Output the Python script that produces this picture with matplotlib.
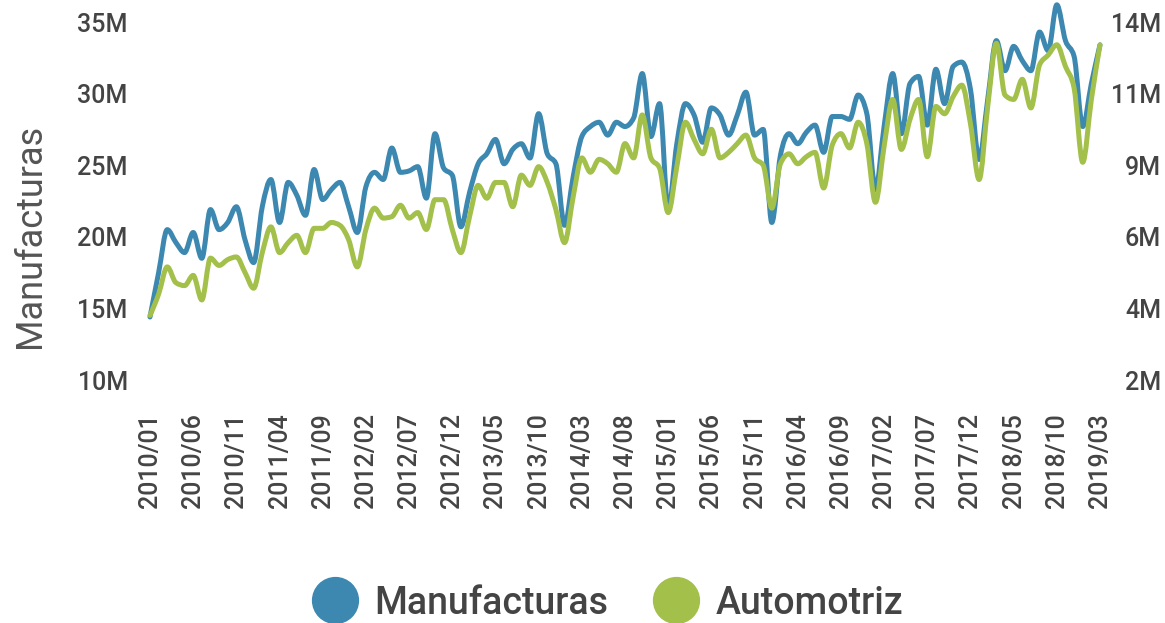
import numpy as np
import pandas as pd
import matplotlib
matplotlib.use('Agg')
import matplotlib.pyplot as plt
from matplotlib.path import Path
from matplotlib.patches import PathPatch
from matplotlib.lines import Line2D
from matplotlib.ticker import FuncFormatter

plt.rcParams['font.family'] = ['Roboto', 'DejaVu Sans']
plt.rcParams['font.weight'] = 'medium'

# monthly series, 2010/01 .. 2019/03
months = pd.period_range('2010-01', '2019-03', freq='M').strftime('%Y/%m').tolist()

# Manufacturas, millions (left axis)
manufacturas = [
    14.4, 17.5, 20.5, 19.6, 18.9, 20.3, 18.5, 21.9, 20.5, 21.0,
    22.1, 19.8, 18.2, 22.1, 24.0, 21.0, 23.8, 22.9, 21.5, 24.7,
    22.6, 23.3, 23.8, 22.1, 20.3, 23.5, 24.5, 24.0, 26.2, 24.5,
    24.6, 24.9, 22.7, 27.2, 24.8, 24.3, 20.7, 23.1, 25.1, 25.8,
    26.8, 25.1, 26.1, 26.5, 25.5, 28.6, 25.8, 25.1, 20.8, 24.2,
    27.0, 27.7, 28.0, 27.1, 28.0, 27.7, 28.3, 31.4, 27.0, 29.3,
    21.9, 26.5, 29.3, 28.5, 26.6, 29.0, 28.5, 27.1, 28.5, 30.1,
    27.1, 27.5, 21.0, 25.7, 27.2, 26.5, 27.3, 27.8, 25.9, 28.4,
    28.4, 28.2, 29.9, 28.6, 23.3, 27.7, 31.4, 27.2, 30.7, 31.2,
    27.8, 31.7, 29.3, 31.9, 32.2, 30.3, 25.4, 29.6, 33.7, 31.6,
    33.3, 32.3, 31.6, 34.3, 33.0, 36.2, 33.7, 32.6, 27.7, 30.7, 33.4,
]

# Automotriz, millions (right axis)
automotriz = [
    4.21, 4.94, 5.87, 5.33, 5.23, 5.58, 4.74, 6.17, 5.92, 6.12,
    6.21, 5.68, 5.14, 6.36, 7.24, 6.36, 6.70, 6.95, 6.36, 7.19,
    7.19, 7.39, 7.29, 6.80, 5.87, 7.15, 7.88, 7.54, 7.59, 7.98,
    7.54, 7.73, 7.15, 8.17, 8.17, 7.15, 6.36, 7.59, 8.66, 8.22,
    8.76, 8.76, 7.93, 9.01, 8.66, 9.30, 8.76, 7.83, 6.70, 8.27,
    9.60, 9.11, 9.55, 9.40, 9.11, 10.09, 9.60, 11.07, 9.60, 9.25,
    7.73, 9.30, 10.82, 10.23, 9.74, 10.58, 9.60, 9.79, 10.09, 10.38,
    9.60, 9.35, 7.88, 9.40, 9.74, 9.40, 9.64, 9.79, 8.57, 10.04,
    10.43, 9.94, 10.82, 10.09, 8.08, 9.99, 11.60, 9.89, 10.92, 11.60,
    9.64, 11.36, 11.11, 11.70, 12.09, 10.77, 8.86, 11.36, 13.52, 11.75,
    11.60, 12.29, 11.31, 12.78, 13.12, 13.47, 12.73, 11.99, 9.45, 11.60, 13.47,
]

blue = '#3c88b0'
green = '#a2c04a'
txt = '#444444'


def monotone_path(x, y):
    # smooth monotone cubic curve (bezier segments) through the points
    x = np.asarray(x, float)
    y = np.asarray(y, float)
    n = len(x)
    h = np.diff(x)
    s = np.diff(y) / h
    t = np.zeros(n)
    for i in range(1, n - 1):
        p = (s[i - 1] * h[i] + s[i] * h[i - 1]) / (h[i - 1] + h[i])
        sg = (1 if s[i - 1] >= 0 else -1) + (1 if s[i] >= 0 else -1)
        t[i] = sg * min(abs(s[i - 1]), abs(s[i]), 0.5 * abs(p))
    t[0] = (3 * s[0] - t[1]) / 2
    t[-1] = (3 * s[-1] - t[-2]) / 2
    verts = [(x[0], y[0])]
    codes = [Path.MOVETO]
    for i in range(n - 1):
        dx = h[i] / 3
        verts += [(x[i] + dx, y[i] + dx * t[i]),
                  (x[i + 1] - dx, y[i + 1] - dx * t[i + 1]),
                  (x[i + 1], y[i + 1])]
        codes += [Path.CURVE4] * 3
    return Path(verts, codes)


x = np.arange(len(months))

fig = plt.figure(figsize=(11.65, 6.23), dpi=100)
ax = fig.add_axes([150 / 1165, 1 - 380 / 623, 950 / 1165, 358 / 623])
ax2 = ax.twinx()

ax.add_patch(PathPatch(monotone_path(x, manufacturas), facecolor='none',
                       edgecolor=blue, lw=3.6, joinstyle='round', capstyle='round',
                       clip_on=False))
ax2.add_patch(PathPatch(monotone_path(x, automotriz), facecolor='none',
                        edgecolor=green, lw=3.6, joinstyle='round', capstyle='round',
                        clip_on=False))

ax.set_xlim(0, len(months) - 1)
ax.set_ylim(10, 35)
ax2.set_ylim(2.0, 14.25)
ax.set_yticks(np.arange(10, 36, 5))
ax2.set_yticks(np.linspace(2.0, 14.25, 6))
ax.yaxis.set_major_formatter(FuncFormatter(lambda v, p: f'{v:.0f}M'))
ax2.yaxis.set_major_formatter(FuncFormatter(lambda v, p: f'{int(v)}M'))

ax.set_xticks(x[::5])
ax.set_xticklabels(months[::5], rotation=90)

for a in (ax, ax2):
    for sp in a.spines.values():
        sp.set_visible(False)
ax.tick_params(axis='both', length=0, labelsize=18, labelcolor=txt)
ax.tick_params(axis='x', pad=24)
ax.tick_params(axis='y', pad=16)
ax2.tick_params(axis='y', length=0, labelsize=18, labelcolor=txt, pad=44)
for lab in ax2.get_yticklabels():
    lab.set_horizontalalignment('right')

fig.text(30 / 1165, 1 - 236 / 623, 'Manufacturas', rotation=90, fontsize=26,
         color='#555555', ha='center', va='center', fontweight='normal')

handles = [Line2D([], [], ls='none', marker='o', markersize=33, color=blue),
           Line2D([], [], ls='none', marker='o', markersize=33, color=green)]
fig.legend(handles, ['Manufacturas', 'Automotriz'], loc='center',
           bbox_to_anchor=(608 / 1165, 1 - 603 / 623), ncol=2, frameon=False,
           fontsize=27, labelcolor=txt, handletextpad=0.45, columnspacing=1.2,
           handlelength=1.2)

fig.savefig('out.png', dpi=100)
